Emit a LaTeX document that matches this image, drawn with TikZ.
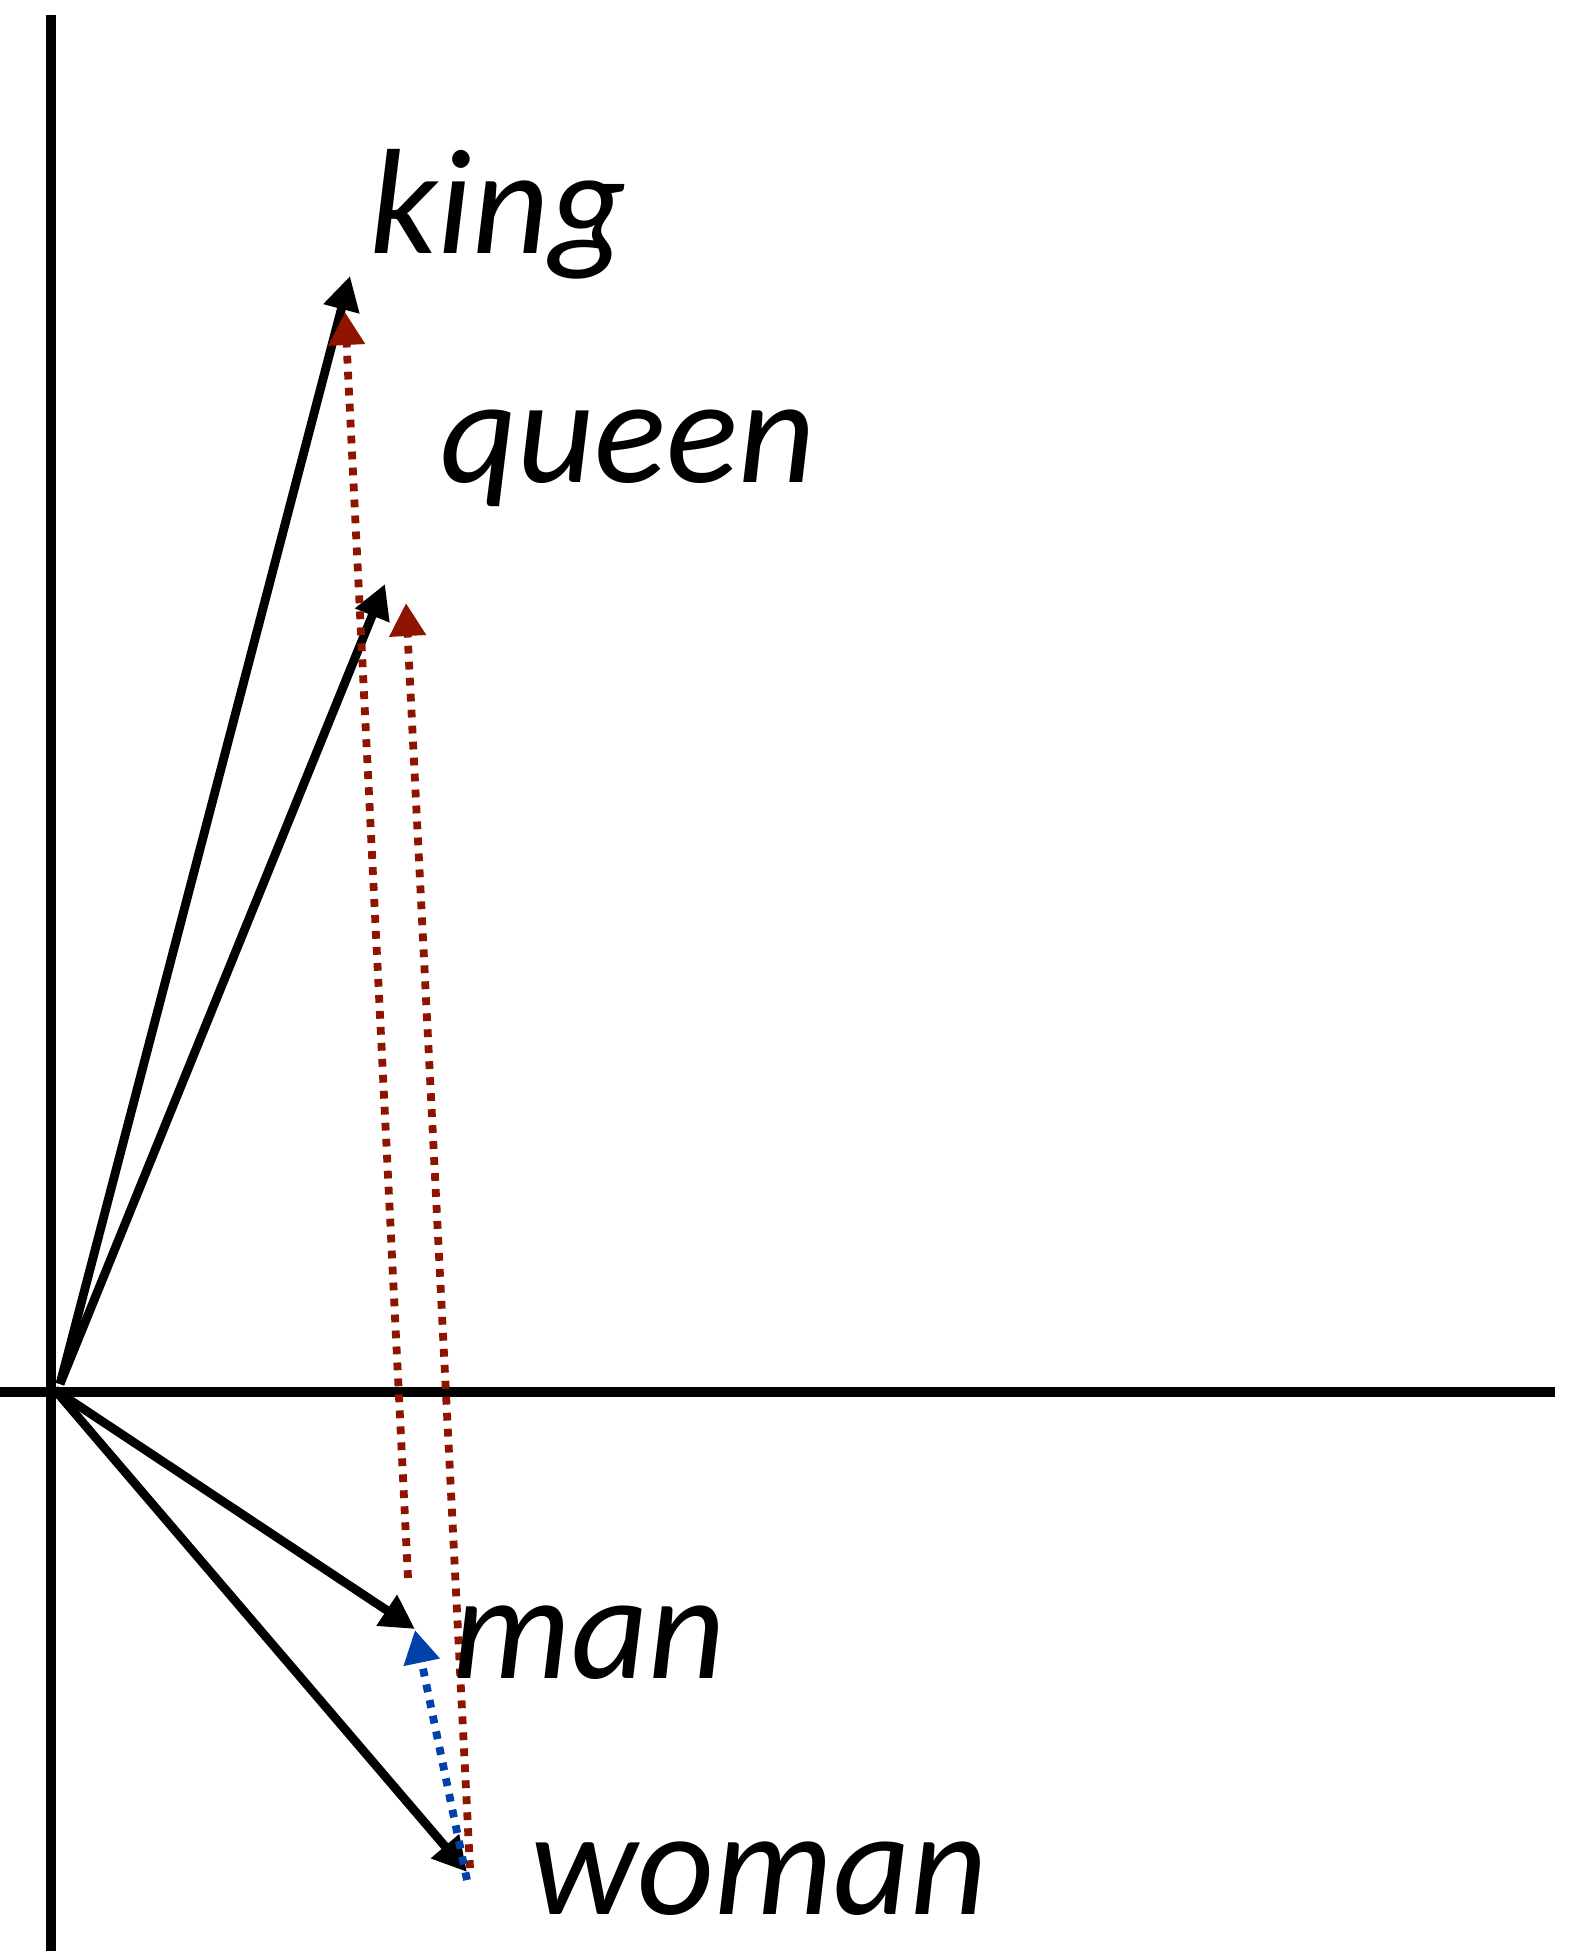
\documentclass[tikz,border=0pt]{standalone}
\usepackage{fontspec}
\setmainfont{Carlito}
\usetikzlibrary{arrows.meta}
\definecolor{dred}{RGB}{143,20,0}
\definecolor{dblue}{RGB}{0,66,170}
\begin{document}
\begin{tikzpicture}[x=0.5pt,y=-0.5pt,
  axis/.style={line width=5pt,black},
  vec/.style={line width=4.4pt,black,-{Triangle[length=17pt,width=17.5pt]}},
  diffr/.style={line width=3.9pt,dred,dash pattern=on 3.9pt off 4.1pt,-{Triangle[length=16.5pt,width=17.5pt]}},
  diffb/.style={line width=3.9pt,dblue,dash pattern=on 3.9pt off 4.1pt,-{Triangle[length=16.5pt,width=17.5pt]}},
  word/.style={font=\fontsize{75pt}{90pt}\selectfont\itshape,anchor=base west,inner sep=0pt}]
\useasboundingbox (0,0) rectangle (1582,1951);
% axes
\coordinate (yt) at (51,15);
\coordinate (yb) at (51,1951);
\coordinate (xl) at (0,1392);
\coordinate (xr) at (1555,1392);
\draw[axis] (yt) -- (yb);
\draw[axis] (xl) -- (xr);
% origins
\coordinate (o1) at (60,1384);
\coordinate (o2) at (55,1390);
% tips
\coordinate (kt) at (350,276);
\coordinate (qt) at (385,584);
\coordinate (mt) at (415,1629);
\coordinate (wt) at (467,1872);
% vectors
\draw[vec] (o1) -- (kt);
\draw[vec] (o1) -- (qt);
\draw[vec] (o2) -- (mt);
\draw[vec] (o2) -- (wt);
% differences
\coordinate (r1s) at (408,1578);
\coordinate (r1e) at (345,312);
\coordinate (r2s) at (470,1868);
\coordinate (r2e) at (406,603);
\coordinate (bs) at (467,1880);
\coordinate (be) at (415,1630);
\draw[diffr] (r1s) -- (r1e);
\draw[diffr] (r2s) -- (r2e);
\draw[diffb] (bs) -- (be);
% labels
\node[word] (king) at (369,253) {king};
\node[word] (queen) at (440,482) {queen};
\node[word] (man) at (452,1678) {man};
\node[word] (woman) at (530,1914) {woman};
\end{tikzpicture}
\end{document}
